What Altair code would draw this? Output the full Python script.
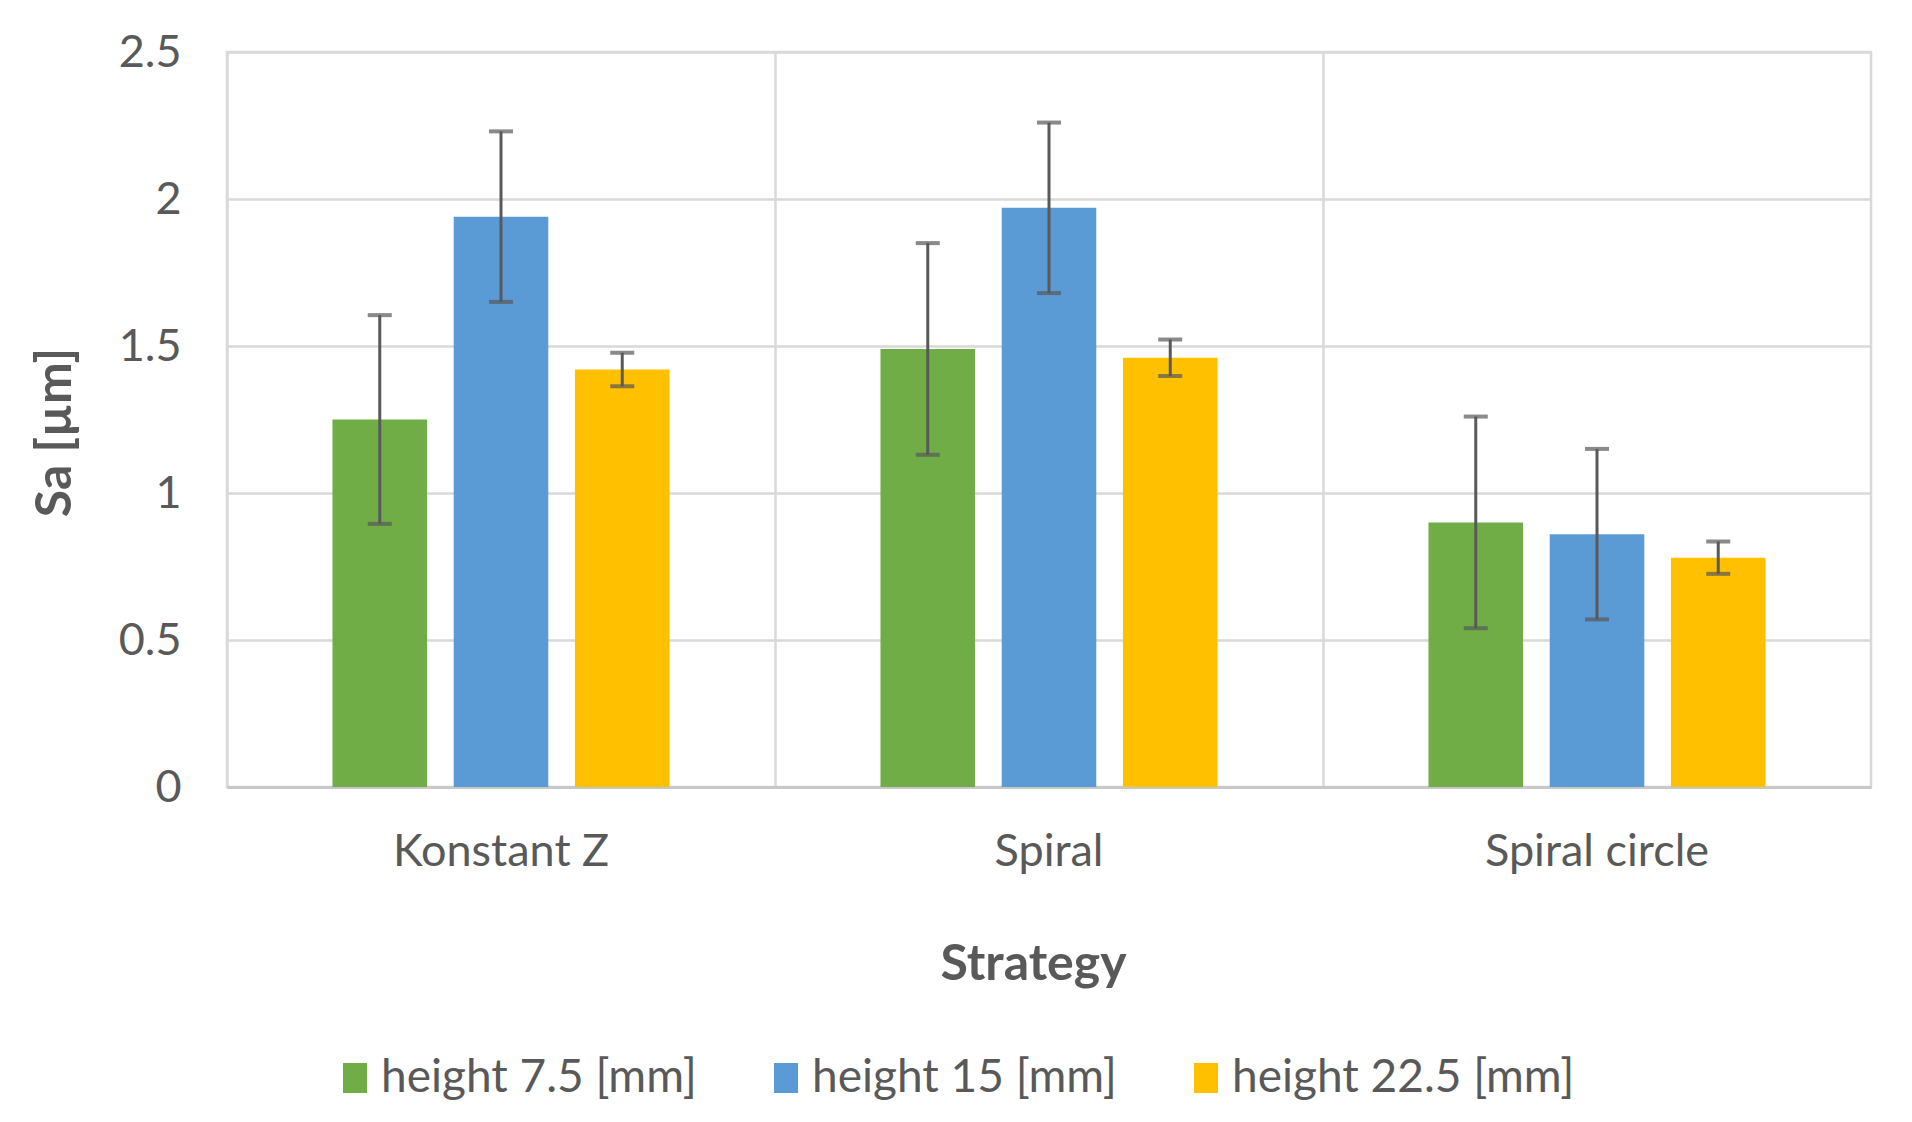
import altair as alt
import pandas as pd

strategies = ["Konstant Z", "Spiral", "Spiral circle"]
series = ["height 7.5 [mm]", "height 15 [mm]", "height 22.5 [mm]"]
colors = ["#70AD47", "#5B9BD5", "#FFC000"]

# mean Sa values per series (order: Konstant Z, Spiral, Spiral circle)
mean_75 = [1.25, 1.49, 0.90]
mean_15 = [1.94, 1.97, 0.86]
mean_225 = [1.42, 1.46, 0.78]
# error (± half-length)
err_75 = [0.355, 0.36, 0.36]
err_15 = [0.29, 0.29, 0.29]
err_225 = [0.057, 0.062, 0.055]

y_ticks = [0, 0.5, 1, 1.5, 2, 2.5]

rows = []
for s, means, errs in zip(series, [mean_75, mean_15, mean_225], [err_75, err_15, err_225]):
    for c, m, e in zip(strategies, means, errs):
        rows.append({"strategy": c, "series": s, "mean": m, "lo": m - e, "hi": m + e})
df = pd.DataFrame(rows)

FONT = "Lato"
GREY = "#595959"

x_enc = alt.X(
    "strategy:N",
    sort=strategies,
    scale=alt.Scale(paddingInner=0, paddingOuter=0),
    axis=alt.Axis(
        title="Strategy",
        titleFontSize=50,
        titleFontWeight="bold",
        titleColor=GREY,
        titleFont=FONT,
        titleX=806,
        titleY=177,
        titleBaseline="middle",
        titleAlign="center",
        labelFont=FONT,
        labelFontSize=45,
        labelColor=GREY,
        labelAngle=0,
        labelBaseline="middle",
        labelPadding=64,
        labelLimit=0,
        ticks=False,
        tickSize=0,
        grid=True,
        gridColor="#d9d9d9",
        gridWidth=2.5,
        bandPosition=0,
        domainColor="#c8c8c8",
        domainWidth=3,
    ),
)
xo_enc = alt.XOffset(
    "series:N", sort=series, scale=alt.Scale(paddingInner=0.22, paddingOuter=0.87)
)

bars = alt.Chart(df).mark_bar().encode(
    x=x_enc,
    xOffset=xo_enc,
    y=alt.Y(
        "mean:Q",
        scale=alt.Scale(domain=[0, 2.5], nice=False),
        axis=alt.Axis(
            title="Sa [µm]",
            titleFontSize=50,
            titleFontWeight="bold",
            titleColor=GREY,
            titleFont=FONT,
            titleAngle=270,
            titleX=-172,
            titleY=380,
            titleBaseline="middle",
            titleAlign="center",
            values=y_ticks,
            format="~g",
            labelFont=FONT,
            labelFontSize=45,
            labelColor=GREY,
            labelPadding=46,
            ticks=False,
            tickSize=0,
            domain=False,
            gridColor="#d9d9d9",
            gridWidth=2.5,
        ),
    ),
    color=alt.Color(
        "series:N",
        sort=series,
        scale=alt.Scale(domain=series, range=colors),
        legend=alt.Legend(
            title=None,
            orient="none",
            legendX=105,
            legendY=1003,
            direction="horizontal",
            columns=3,
            columnPadding=66,
            labelOffset=3,
            labelLimit=0,
            symbolType="M-0.8,-1H0.8V1H-0.8Z",
            symbolSize=900,
            symbolStrokeWidth=0,
            labelFont=FONT,
            labelFontSize=46,
            labelColor=GREY,
            padding=0,
        ),
    ),
)

rules = alt.Chart(df).mark_rule(color=GREY, strokeWidth=3).encode(
    x=x_enc, xOffset=xo_enc, y="lo:Q", y2="hi:Q"
)
cap_lo = alt.Chart(df).mark_tick(color=GREY, thickness=4, size=24).encode(
    x=x_enc, xOffset=xo_enc, y="lo:Q"
)
cap_hi = alt.Chart(df).mark_tick(color=GREY, thickness=4, size=24).encode(
    x=x_enc, xOffset=xo_enc, y="hi:Q"
)

chart = (
    alt.layer(bars, rules, cap_lo, cap_hi)
    .properties(
        width=1644,
        height=735,
        autosize=alt.AutoSizeParams(type="none"),
        padding={"left": 219, "top": 44, "right": 33, "bottom": 327},
        background="white",
    )
    .configure_view(stroke="#d9d9d9", strokeWidth=2.5)
)

chart.save("out.html", embed_options={"renderer": "svg", "actions": False})
